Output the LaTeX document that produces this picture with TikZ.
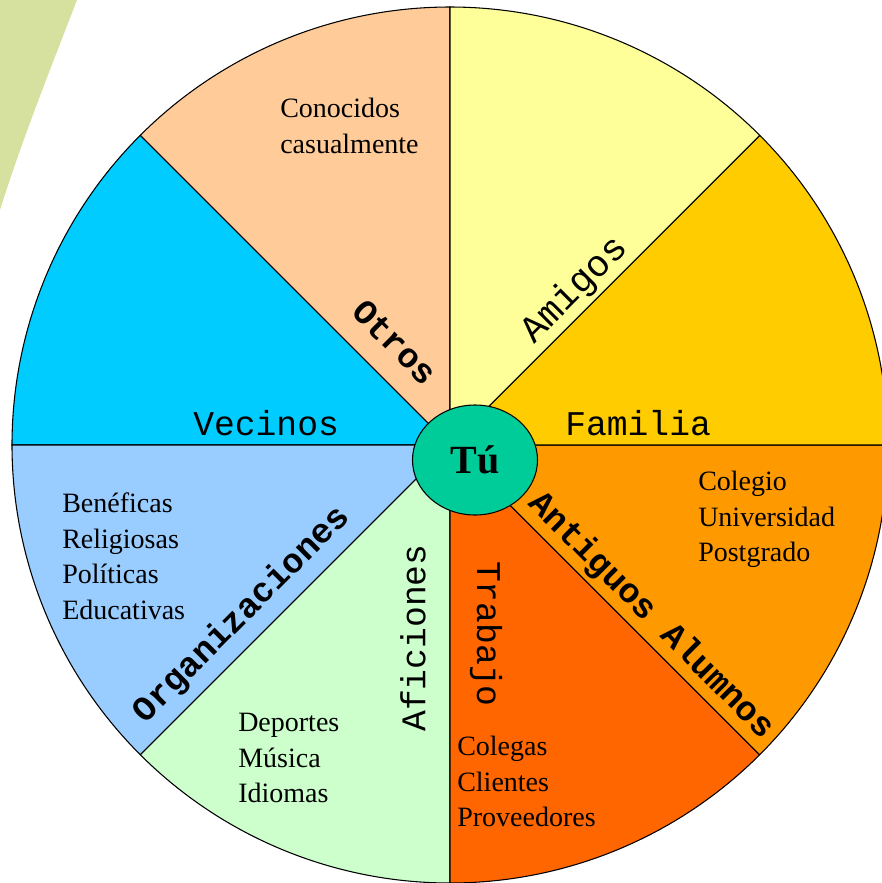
\documentclass[tikz,border=0pt]{standalone}
\usepackage{fontspec}
\setmainfont{Liberation Serif}
\setmonofont{Liberation Mono}
\usetikzlibrary{shapes.geometric}

\definecolor{bandgreen}{HTML}{D6E1A0}
\definecolor{peach}{HTML}{FFCC99}
\definecolor{paleyellow}{HTML}{FFFF99}
\definecolor{gold}{HTML}{FFCC00}
\definecolor{orange}{HTML}{FF9900}
\definecolor{darkorange}{HTML}{FF6600}
\definecolor{palegreen}{HTML}{CCFFCC}
\definecolor{paleblue}{HTML}{99CCFF}
\definecolor{cyan}{HTML}{00CCFF}
\definecolor{tugreen}{HTML}{00CC99}

\tikzset{
  sector/.style={draw=black, line width=0.8pt},
  catlabel/.style={inner sep=0pt, font=\ttfamily\fontsize{26}{30}\selectfont},
  catbold/.style={inner sep=0pt, font=\ttfamily\bfseries\fontsize{26}{30}\selectfont},
  listlabel/.style={anchor=north west, inner sep=0pt, align=left, font=\fontsize{21}{26.6}\selectfont},
}

\begin{document}
\begin{tikzpicture}[x=0.75pt,y=0.75pt,yscale=-1,xscale=1]
\useasboundingbox (0,0) rectangle (882,883);
\clip (0,0) rectangle (882,883);

%Shape: Band [top left corner]
\fill [bandgreen] (0,0) -- (77,0) .. controls (50,70) and (22,140) .. (0,210) -- cycle ;

\coordinate (ctr) at (450,445);
%Shape: Sector [Otros]
\draw [sector, fill=peach] (ctr) -- ++(-90:438) arc[start angle=-90, end angle=-135, radius=438] -- cycle ;
%Shape: Sector [Vecinos]
\draw [sector, fill=cyan] (ctr) -- ++(-135:438) arc[start angle=-135, end angle=-180, radius=438] -- cycle ;
%Shape: Sector [Organizaciones]
\draw [sector, fill=paleblue] (ctr) -- ++(-180:438) arc[start angle=-180, end angle=-225, radius=438] -- cycle ;
%Shape: Sector [Aficiones]
\draw [sector, fill=palegreen] (ctr) -- ++(-225:438) arc[start angle=-225, end angle=-270, radius=438] -- cycle ;
%Shape: Sector [Trabajo]
\draw [sector, fill=darkorange] (ctr) -- ++(-270:438) arc[start angle=-270, end angle=-315, radius=438] -- cycle ;
%Shape: Sector [Antiguos Alumnos]
\draw [sector, fill=orange] (ctr) -- ++(-315:438) arc[start angle=-315, end angle=-360, radius=438] -- cycle ;
%Shape: Sector [Familia]
\draw [sector, fill=gold] (ctr) -- ++(0:438) arc[start angle=0, end angle=-45, radius=438] -- cycle ;
%Shape: Sector [Amigos]
\draw [sector, fill=paleyellow] (ctr) -- ++(-45:438) arc[start angle=-45, end angle=-90, radius=438] -- cycle ;

%Shape: Ellipse [Tu]
\node [draw, ellipse, fill=tugreen, line width=0.8pt, inner sep=0pt, minimum width=93.75pt, minimum height=82.5pt, font=\bfseries\fontsize{30}{30}\selectfont] (tu) at (475,460) {Tú};

% Text Node
\node [catbold, rotate=-45] (otros) at (395,342) {Otros};
% Text Node
\node [catlabel, rotate=45, font=\ttfamily\fontsize{28}{30}\selectfont] (amigos) at (575,290) {Amigos};
% Text Node
\node [catlabel, anchor=base west] (familia) at (565,435) {Familia};
% Text Node
\node [catlabel, anchor=base west] (vecinos) at (193,435) {Vecinos};
% Text Node
\node [catbold, rotate=-45] (antiguos) at (651,616) {Antiguos Alumnos};
% Text Node
\node [catlabel, rotate=-90] (trabajo) at (486,634) {Trabajo};
% Text Node
\node [catlabel, rotate=90] (aficiones) at (413,638) {Aficiones};
% Text Node
\node [catbold, rotate=45] (organizaciones) at (242,615) {Organizaciones};

% Text Node
\node [listlabel] (conocidos) at (280,98) {Conocidos\\casualmente};
% Text Node
\node [listlabel] (beneficas) at (62,493) {Benéficas\\Religiosas\\Políticas\\Educativas};
% Text Node
\node [listlabel] (deportes) at (238,713) {Deportes\\Música\\Idiomas};
% Text Node
\node [listlabel] (colegas) at (457,736) {Colegas\\Clientes\\Proveedores};
% Text Node
\node [listlabel] (colegio) at (698,471) {Colegio\\Universidad\\Postgrado};

\end{tikzpicture}
\end{document}
